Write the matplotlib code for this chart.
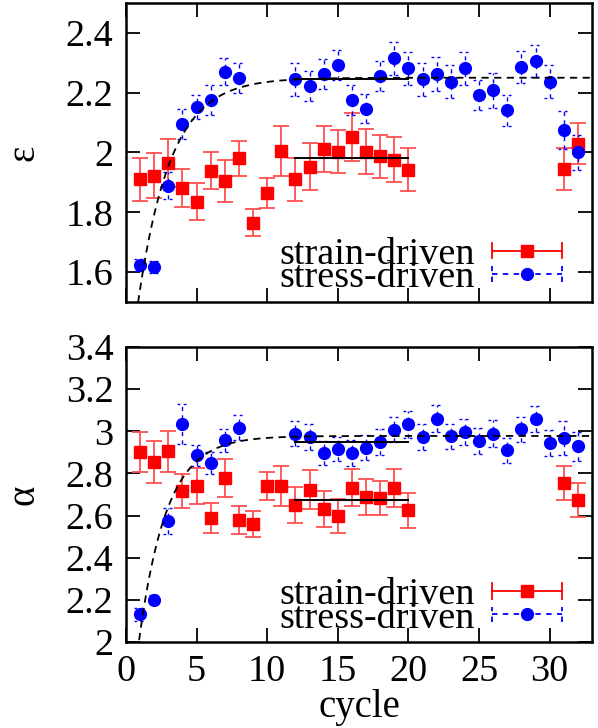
import numpy as np
import matplotlib
matplotlib.use("Agg")
import matplotlib.pyplot as plt
from matplotlib.lines import Line2D
from matplotlib.legend_handler import HandlerBase

plt.rcParams['font.family'] = ['Liberation Serif', 'DejaVu Serif']
plt.rcParams['font.size'] = 27

# --- data ---
cyc_strain = [1, 2, 3, 4, 5, 6, 7, 8, 9, 10, 11, 12, 13, 14, 15, 16, 17, 18, 19, 20, 31, 32]
cyc_stress = [1, 2, 3, 4, 5, 6, 7, 8, 12, 13, 14, 15, 16, 17, 18, 19, 20, 21, 22,
              23, 24, 25, 26, 27, 28, 29, 30, 31, 32]

eps_strain = [1.911, 1.922, 1.965, 1.881, 1.836, 1.939, 1.906, 1.980, 1.765, 1.863, 2.006,
              1.911, 1.953, 2.011, 2.003, 2.052, 2.003, 1.987, 1.976, 1.942, 1.945, 2.030]
eps_strain_err = [0.072, 0.075, 0.080, 0.063, 0.063, 0.062, 0.070, 0.060, 0.046, 0.050, 0.083,
                  0.072, 0.079, 0.077, 0.072, 0.080, 0.076, 0.073, 0.076, 0.072, 0.070, 0.070]
eps_stress = [1.625, 1.617, 1.889, 2.095, 2.153, 2.175, 2.270, 2.250, 2.245, 2.222, 2.263,
              2.294, 2.175, 2.147, 2.256, 2.315, 2.281, 2.245, 2.263, 2.237, 2.281, 2.191,
              2.208, 2.141, 2.287, 2.306, 2.237, 2.075, 2.000]
eps_stress_err = [0.02, 0.02, 0.045, 0.05, 0.04, 0.05, 0.045, 0.05, 0.055, 0.05, 0.05,
                  0.05, 0.05, 0.047, 0.05, 0.055, 0.056, 0.055, 0.057, 0.055, 0.056, 0.05,
                  0.058, 0.052, 0.053, 0.055, 0.055, 0.065, 0.06]

alpha_strain = [2.902, 2.854, 2.905, 2.717, 2.740, 2.589, 2.778, 2.578, 2.562, 2.740, 2.740,
                2.652, 2.723, 2.630, 2.598, 2.733, 2.688, 2.685, 2.731, 2.625, 2.755, 2.673]
alpha_strain_err = [0.095, 0.10, 0.097, 0.08, 0.087, 0.072, 0.09, 0.067, 0.062, 0.067, 0.095,
                    0.085, 0.093, 0.085, 0.08, 0.088, 0.085, 0.08, 0.09, 0.083, 0.081, 0.08]
alpha_stress = [2.131, 2.201, 2.574, 3.037, 2.886, 2.850, 2.957, 3.018, 2.989, 2.973, 2.899,
                2.918, 2.897, 2.923, 2.949, 3.008, 3.033, 2.973, 3.060, 2.976, 2.997, 2.953,
                2.989, 2.910, 3.010, 3.057, 2.944, 2.968, 2.929]
alpha_stress_err = [0.03, 0.02, 0.06, 0.095, 0.05, 0.054, 0.055, 0.06, 0.06, 0.06, 0.057,
                    0.057, 0.06, 0.06, 0.06, 0.06, 0.065, 0.06, 0.063, 0.06, 0.063, 0.063,
                    0.065, 0.06, 0.06, 0.062, 0.063, 0.08, 0.07]

# plateau averages (cycles 12-20) and saturating fits  y = A - B exp(-x/tau)
plateau_range = (12, 20)
eps_plateau = [1.983, 2.245]
alpha_plateau = [2.673, 2.949]
eps_fit = (2.25, 1.09, 2.3)
alpha_fit = (2.978, 1.56, 1.95)

RED = '#ff0000'
RED_BAR = '#ff5050'
BLUE = '#0000ff'
MS = 8.5


class ErrKey(HandlerBase):
    # gnuplot-like key sample: horizontal bar with end ticks and a marker in the middle
    def __init__(self, color, ls, marker, ms):
        super().__init__()
        self.color, self.ls, self.marker, self.ms = color, ls, marker, ms

    def create_artists(self, legend, orig_handle, xdescent, ydescent, width, height,
                       fontsize, trans):
        y = height / 2 - ydescent
        x0, x1 = -xdescent, width - xdescent
        h = 0.2 * fontsize
        arts = [Line2D([x0, x1], [y, y], color=self.color, ls=self.ls, lw=1.3),
                Line2D([x0, x0], [y - h, y + h], color=self.color, ls=self.ls, lw=1.3),
                Line2D([x1, x1], [y - h, y + h], color=self.color, ls=self.ls, lw=1.3),
                Line2D([(x0 + x1) / 2], [y], color=self.color, marker=self.marker,
                       ms=self.ms, ls='none')]
        for a in arts:
            a.set_transform(trans)
        return arts


def panel(ax, strain, strain_err, stress, stress_err, plateau, fit):
    cs = np.array(cyc_strain)
    ct = np.array(cyc_stress)
    ax.errorbar(cs, strain, yerr=strain_err, fmt='none', ecolor=RED_BAR,
                elinewidth=1.3, capsize=5.5, capthick=1.3, zorder=2)
    ax.plot(cs, strain, 's', color=RED, ms=MS, zorder=3)

    eb = ax.errorbar(ct, stress, yerr=stress_err, fmt='none', ecolor=BLUE,
                     elinewidth=1.0, zorder=2)
    eb[2][0].set_linestyle((0, (3, 3)))
    top = np.array(stress) + np.array(stress_err)
    bot = np.array(stress) - np.array(stress_err)
    ax.hlines(np.concatenate([top, bot]), np.concatenate([ct, ct]) - 0.4,
              np.concatenate([ct, ct]) + 0.4, colors=BLUE, lw=1.0,
              linestyles=(0, (2, 2.5)), zorder=2)
    ax.plot(ct, stress, 'o', color=BLUE, ms=MS, zorder=3)

    for v in plateau:
        ax.plot(plateau_range, [v, v], color='black', lw=1.4, zorder=4)

    A, B, tau = fit
    xf = np.linspace(0.5, 33, 400)
    ax.plot(xf, A - B * np.exp(-xf / tau), color='black', lw=1.3,
            ls=(0, (4, 3)), zorder=4)

    ax.set_xlim(0, 33)
    ax.set_xticks([0, 5, 10, 15, 20, 25, 30])
    ax.tick_params(direction='in', length=10, width=1.3, top=True, right=True,
                   labelsize=27.5, pad=9)
    for s in ax.spines.values():
        s.set_linewidth(1.8)

    h1 = Line2D([], [])
    h2 = Line2D([], [], ls='--')
    ax.legend([h1, h2], ['strain-driven', 'stress-driven'], loc='lower right',
              bbox_to_anchor=(0.936, 0.022), frameon=False, markerfirst=False,
              fontsize=27.5, handlelength=1.84, handletextpad=0.45,
              labelspacing=-0.3, borderpad=0, borderaxespad=0,
              handler_map={h1: ErrKey(RED, '-', 's', MS),
                           h2: ErrKey(BLUE, (0, (3, 3)), 'o', MS)})


fig = plt.figure(figsize=(5.98, 7.28), dpi=100)
ax1 = fig.add_axes([0.2107, 0.5852, 0.7793, 0.4107])
ax2 = fig.add_axes([0.2107, 0.1181, 0.7793, 0.4052])

panel(ax1, eps_strain, eps_strain_err, eps_stress, eps_stress_err, eps_plateau, eps_fit)
ax1.set_ylim(1.5, 2.5)
ax1.set_yticks([1.6, 1.8, 2.0, 2.2, 2.4])
ax1.set_yticklabels(['1.6', '1.8', '2', '2.2', '2.4'])
ax1.tick_params(labelbottom=False)
ax1.set_ylabel('ε', fontsize=28)
ax1.yaxis.set_label_coords(-0.18, 0.5)

panel(ax2, alpha_strain, alpha_strain_err, alpha_stress, alpha_stress_err,
      alpha_plateau, alpha_fit)
ax2.set_ylim(2.0, 3.4)
ax2.set_yticks([2.0, 2.2, 2.4, 2.6, 2.8, 3.0, 3.2, 3.4])
ax2.set_yticklabels(['2', '2.2', '2.4', '2.6', '2.8', '3', '3.2', '3.4'])
ax2.set_xlabel('cycle', fontsize=28, labelpad=0)
ax2.set_ylabel('α', fontsize=28)
ax2.yaxis.set_label_coords(-0.18, 0.5)

fig.savefig('out.png', dpi=100)
